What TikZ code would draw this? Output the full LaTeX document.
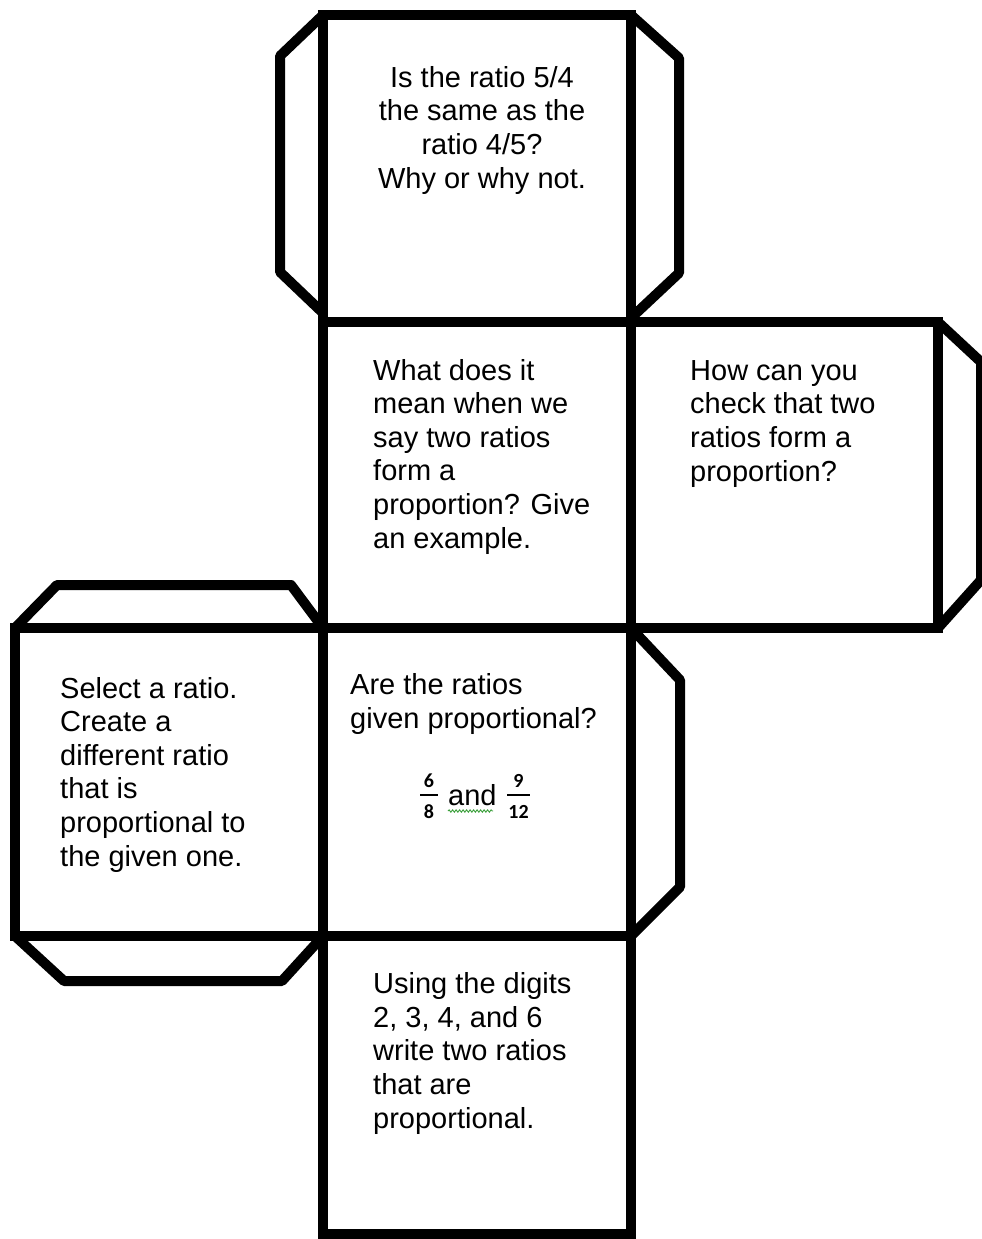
\documentclass[tikz,border=0pt]{standalone}
\usepackage{fontspec}
\setmainfont{Liberation Sans}
\newfontfamily\fracfont{Carlito}
\usetikzlibrary{decorations.pathmorphing}
\definecolor{spellgreen}{RGB}{60,160,60}
\tikzset{
  edge/.style={draw=black, line width=10pt, line join=miter},
  tabline/.style={draw=black, line width=10pt, line join=round},
  % anchor=base refers to the baseline of the LAST line of a multi-line node
  facetext/.style={inner sep=0pt, align=left, anchor=base west, font=\fontsize{29}{33.6}\selectfont},
  facetextc/.style={inner sep=0pt, align=center, anchor=base, font=\fontsize{29}{33.6}\selectfont},
  digit/.style={inner sep=0pt, anchor=base, font=\fracfont\bfseries\fontsize{20}{20}\selectfont},
  fracbar/.style={draw=black, line width=1.2pt}
}
\begin{document}
\begin{tikzpicture}[x=1pt, y=-1pt]
\useasboundingbox (0,0) rectangle (982,1239);
\fill[white] (0,0) rectangle (982,1239);
\begin{scope}
\clip (0,0) rectangle (982,1239);
% grid coordinates
\coordinate (A1) at (323,15);   \coordinate (B1) at (631,15);
\coordinate (A2) at (323,322);  \coordinate (B2) at (631,322);  \coordinate (C2) at (938,322);
\coordinate (L3) at (15,628);   \coordinate (A3) at (323,628);  \coordinate (B3) at (631,628);  \coordinate (C3) at (938,628);
\coordinate (L4) at (15,936);   \coordinate (A4) at (323,936);  \coordinate (B4) at (631,936);
\coordinate (A5) at (323,1234); \coordinate (B5) at (631,1234);
% tabs
\draw[tabline] (A1) -- (280,56) -- (280,272) -- (323,313);
\draw[tabline] (B1) -- (679,58) -- (679,273) -- (631,318);
\draw[tabline] (C2) -- (981,362) -- (981,580) -- (C3);
\draw[tabline] (L3) -- (57,585) -- (291,585) -- (A3);
\draw[tabline] (L4) -- (64,981) -- (282,981) -- (A4);
\draw[tabline] (B3) -- (680,680) -- (680,887) -- (B4);
% faces
\draw[edge] (A1) rectangle (B2);
\draw[edge] (A2) rectangle (B3);
\draw[edge] (B2) rectangle (C3);
\draw[edge] (L3) rectangle (A4);
\draw[edge] (A3) rectangle (B4);
\draw[edge] (A4) rectangle (B5);
\end{scope}
% texts (positions are the baseline of the last line)
\node[facetextc] (t1) at (482,188) {Is the ratio 5/4\\the same as the\\ratio 4/5?\\Why or why not.};
\node[facetext] (t2) at (373,548) {What does it\\mean when we\\say two ratios\\form a\\proportion? Give\\an example.};
\node[facetext] (t3) at (690,481) {How can you\\check that two\\ratios form a\\proportion?};
\node[facetext] (t4) at (60,866) {Select a ratio.\\Create a\\different ratio\\that is\\proportional to\\the given one.};
\node[facetext] (t5) at (350,728) {Are the ratios\\given proportional?};
\node[facetext] (t6) at (373,1128) {Using the digits\\2, 3, 4, and 6\\write two ratios\\that are\\proportional.};
% fractions
\node[digit] (n6) at (429,787) {6};
\node[digit] (d8) at (429,818) {8};
\draw[fracbar] (420,795) -- (438,795);
\node[facetext] (and) at (448,805) {and};
\node[digit] (n9) at (518.5,787) {9};
\node[digit] (d12) at (518.5,818) {12};
\draw[fracbar] (507,795) -- (530,795);
\draw[spellgreen, line width=0.9pt, decorate, decoration={snake, amplitude=1.2pt, segment length=3.5pt}] (448,811) -- (493,811);
\end{tikzpicture}
\end{document}
